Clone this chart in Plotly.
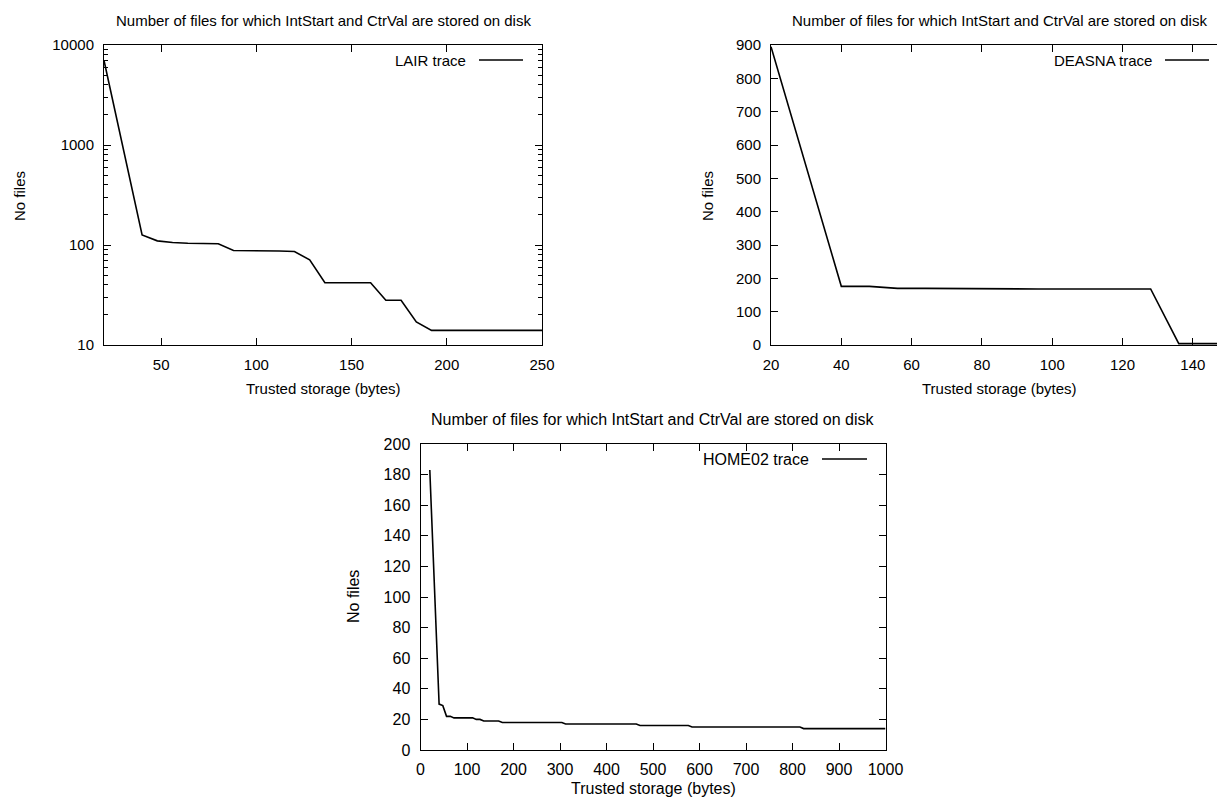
import plotly.graph_objects as go

# ---------------- data ----------------
lair_x = [20, 40, 48, 56, 64, 72, 80, 88, 96, 104, 112, 120, 128, 136, 144, 152, 160,
          168, 176, 184, 192, 200, 208, 216, 224, 232, 240, 248, 256]
lair_y = [7000, 126, 110, 106, 104, 104, 103, 88, 88, 87, 87, 86, 71, 42, 42, 42, 42,
          28, 28, 17, 14, 14, 14, 14, 14, 14, 14, 14, 14]

deasna_x = [20, 40, 48, 56, 64, 72, 80, 88, 96, 104, 112, 120, 128, 136, 144, 152]
deasna_y = [895, 176, 176, 170, 170, 169, 169, 168, 168, 168, 168, 168, 168, 4, 4, 4]

home_x = [20, 40, 48, 56, 64, 72, 112, 120, 128, 136, 168, 176, 304, 312, 464, 472,
          576, 584, 816, 824, 1000]
home_y = [183, 30, 29, 22, 22, 21, 21, 20, 20, 19, 19, 18, 18, 17, 17, 16,
          16, 15, 15, 14, 14]

title_text = "Number of files for which IntStart and CtrVal are stored on disk"
xlabel = "Trusted storage (bytes)"
ylabel = "No files"
names = ["LAIR trace", "DEASNA trace", "HOME02 trace"]

lair_xticks = [50, 100, 150, 200, 250]
lair_yticks = [10, 100, 1000, 10000]
lair_yminor = [v * m for v in [10, 100, 1000] for m in range(2, 10)]
deasna_xticks = list(range(20, 141, 20))
deasna_yticks = list(range(0, 901, 100))
home_xticks = list(range(0, 1001, 100))
home_yticks = list(range(0, 201, 20))

# ---------------- layout helpers ----------------
# the page body has an 8px margin, so the figure is placed 8px in from the
# top-left corner; coordinates below are given in window pixels.
OFF = 8
W, H = 1225 - OFF, 798 - OFF
FONT = "Liberation Sans, Arial, sans-serif"


def px(x):
    return (x - OFF) / W


def py(y):
    return 1 - (y - OFF) / H


line_style = dict(color="black", width=1.6)

fig = go.Figure()
fig.add_trace(go.Scatter(x=lair_x, y=lair_y, mode="lines", line=line_style,
                         xaxis="x", yaxis="y", showlegend=False, name=names[0]))
fig.add_trace(go.Scatter(x=deasna_x, y=deasna_y, mode="lines", line=line_style,
                         xaxis="x2", yaxis="y2", showlegend=False, name=names[1]))
fig.add_trace(go.Scatter(x=home_x, y=home_y, mode="lines", line=line_style,
                         xaxis="x3", yaxis="y3", showlegend=False, name=names[2]))


def ax(fs, **kw):
    d = dict(showline=True, linecolor="black", linewidth=1, mirror="ticks",
             ticks="inside", ticklen=7, tickcolor="black", tickwidth=1,
             showgrid=False, zeroline=False, automargin=False,
             tickfont=dict(family=FONT, size=fs, color="black"))
    d.update(kw)
    return d


FS_TOP = 15
FS_BOT = 16

fig.update_layout(
    width=W, height=H,
    margin=dict(l=0, r=0, t=0, b=0, autoexpand=False),
    paper_bgcolor="white", plot_bgcolor="white",
    font=dict(family=FONT, color="black"),
    xaxis=ax(FS_TOP, domain=[px(104), px(542)], range=[20, 250], anchor="y",
             tickmode="array", tickvals=lair_xticks, ticklabelstandoff=6),
    yaxis=ax(FS_TOP, domain=[py(345), py(45)], type="log", range=[1, 4], anchor="x",
             tickmode="array", tickvals=lair_yticks,
             ticktext=[str(v) for v in lair_yticks], ticklabelstandoff=6,
             minor=dict(tickmode="array", tickvals=lair_yminor, ticks="inside",
                        ticklen=4, tickcolor="black", showgrid=False)),
    xaxis2=ax(FS_TOP, domain=[px(771), 1.0], range=[20, 149.15], anchor="y2",
              tickmode="array", tickvals=deasna_xticks, ticklabelstandoff=6),
    yaxis2=ax(FS_TOP, domain=[py(345), py(45)], range=[0, 900], anchor="x2",
              tickmode="array", tickvals=deasna_yticks, ticklabelstandoff=6),
    xaxis3=ax(FS_BOT, domain=[px(420.5), px(885.5)], range=[0, 1000], anchor="y3",
              tickmode="array", tickvals=home_xticks, ticklabelstandoff=5),
    yaxis3=ax(FS_BOT, domain=[py(750), py(444)], range=[0, 200], anchor="x3",
              tickmode="array", tickvals=home_yticks, ticklabelstandoff=6),
)

annotations = []
shapes = []


def text(x, y, s, fs, xanchor="center", angle=0):
    annotations.append(dict(x=px(x), y=py(y), xref="paper", yref="paper", text=s,
                            showarrow=False, xanchor=xanchor, yanchor="middle",
                            textangle=angle,
                            font=dict(family=FONT, size=fs, color="black")))


# titles / axis titles
text(323, 21, title_text, FS_TOP)
text(999, 21, title_text, FS_TOP)
text(653, 419, title_text, FS_BOT)

text(323, 388, xlabel, FS_TOP)
text(999, 388, xlabel, FS_TOP)
text(653, 788, xlabel, FS_BOT)

text(20, 196, ylabel, FS_TOP, angle=-90)
text(708, 196, ylabel, FS_TOP, angle=-90)
text(353, 597, ylabel, FS_BOT, angle=-90)

# legends (key text + sample line, gnuplot style)
legend_pos = [(468, 479, 523, 60, FS_TOP), (1154, 1165, 1209, 60, FS_TOP),
              (811, 822, 867, 459, FS_BOT)]
for name, (tx, l0, l1, ly, fs) in zip(names, legend_pos):
    text(tx, ly, name, fs, xanchor="right")
    shapes.append(dict(type="line", xref="paper", yref="paper",
                       x0=px(l0), x1=px(l1), y0=py(ly), y1=py(ly),
                       line=dict(color="black", width=1.6)))

fig.update_layout(annotations=annotations, shapes=shapes)

fig.write_html("out.html")
